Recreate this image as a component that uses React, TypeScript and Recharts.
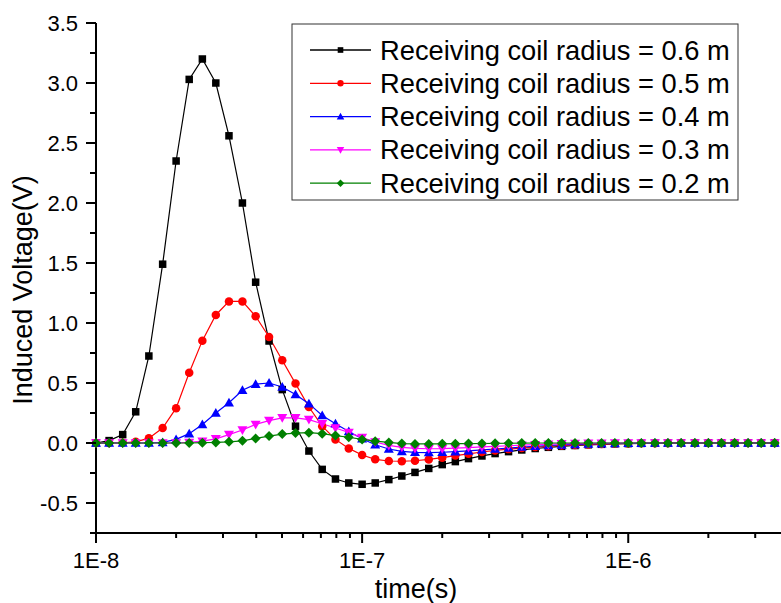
import { LineChart, Line, XAxis, YAxis } from 'recharts'

// time samples (s), 20 per decade
const times = [
  1.0e-8, 1.12e-8, 1.26e-8, 1.41e-8, 1.58e-8, 1.78e-8, 2.0e-8, 2.24e-8, 2.51e-8, 2.82e-8,
  3.16e-8, 3.55e-8, 3.98e-8, 4.47e-8, 5.01e-8, 5.62e-8, 6.31e-8, 7.08e-8, 7.94e-8, 8.91e-8,
  1.0e-7, 1.12e-7, 1.26e-7, 1.41e-7, 1.58e-7, 1.78e-7, 2.0e-7, 2.24e-7, 2.51e-7, 2.82e-7,
  3.16e-7, 3.55e-7, 3.98e-7, 4.47e-7, 5.01e-7, 5.62e-7, 6.31e-7, 7.08e-7, 7.94e-7, 8.91e-7,
  1.0e-6, 1.12e-6, 1.26e-6, 1.41e-6, 1.58e-6, 1.78e-6, 2.0e-6, 2.24e-6, 2.51e-6, 2.82e-6,
  3.16e-6, 3.55e-6,
]

const v06 = [
  0, 0.02, 0.07, 0.26, 0.725, 1.49, 2.35, 3.03, 3.2, 3.0,
  2.56, 2.0, 1.34, 0.85, 0.445, 0.14, -0.067, -0.22, -0.3, -0.333,
  -0.344, -0.333, -0.305, -0.275, -0.245, -0.212, -0.18, -0.155, -0.13, -0.108,
  -0.088, -0.072, -0.058, -0.046, -0.036, -0.028, -0.021, -0.015, -0.011, -0.007,
  -0.005, -0.003, -0.002, -0.001, 0, 0, 0, 0, 0, 0,
  0, 0,
]
const v05 = [
  0, 0, 0.002, 0.01, 0.04, 0.125, 0.29, 0.585, 0.853, 1.067,
  1.18, 1.18, 1.056, 0.883, 0.69, 0.495, 0.3, 0.14, 0.03, -0.045,
  -0.1, -0.136, -0.15, -0.152, -0.148, -0.137, -0.122, -0.105, -0.09, -0.075,
  -0.062, -0.051, -0.042, -0.034, -0.027, -0.021, -0.016, -0.012, -0.009, -0.006,
  -0.004, -0.003, -0.002, -0.001, 0, 0, 0, 0, 0, 0,
  0, 0,
]
const v04 = [
  0, 0, 0, 0, 0, 0.005, 0.03, 0.078, 0.155, 0.25,
  0.335, 0.44, 0.49, 0.5, 0.467, 0.405, 0.328, 0.23, 0.16, 0.095,
  0.035, -0.015, -0.05, -0.07, -0.078, -0.08, -0.077, -0.072, -0.066, -0.058,
  -0.05, -0.042, -0.034, -0.027, -0.021, -0.016, -0.012, -0.008, -0.006, -0.004,
  -0.003, -0.002, -0.001, 0, 0, 0, 0, 0, 0, 0,
  0, 0,
]
const v03 = [
  0, 0, 0, 0, 0, 0, 0, 0.005, 0.015, 0.035,
  0.07, 0.108, 0.155, 0.187, 0.21, 0.21, 0.195, 0.16, 0.125, 0.088,
  0.045, 0.008, -0.02, -0.036, -0.045, -0.048, -0.047, -0.043, -0.038, -0.033,
  -0.028, -0.023, -0.018, -0.014, -0.01, -0.007, -0.005, -0.003, -0.002, -0.001,
  0, 0, 0, 0, 0, 0, 0, 0, 0, 0,
  0, 0,
]
const v02 = [
  0, 0, 0, 0, 0, 0, 0, 0, 0.003, 0.005,
  0.01, 0.018, 0.038, 0.058, 0.074, 0.083, 0.086, 0.078, 0.062, 0.048,
  0.03, 0.015, 0.005, -0.005, -0.008, -0.008, -0.007, -0.006, -0.005, -0.004,
  -0.003, -0.002, -0.001, 0, 0, 0, 0, 0, 0, 0,
  0, 0, 0, 0, 0, 0, 0, 0, 0, 0,
  0, 0,
]

const seriesNames = [
  'Receiving coil radius = 0.6 m',
  'Receiving coil radius = 0.5 m',
  'Receiving coil radius = 0.4 m',
  'Receiving coil radius = 0.3 m',
  'Receiving coil radius = 0.2 m',
]

const xMajor = [1e-8, 1e-7, 1e-6]
const xMajorLabels = ['1E-8', '1E-7', '1E-6']
const xTicks = [
  1e-8, 2e-8, 3e-8, 4e-8, 5e-8, 6e-8, 7e-8, 8e-8, 9e-8,
  1e-7, 2e-7, 3e-7, 4e-7, 5e-7, 6e-7, 7e-7, 8e-7, 9e-7,
  1e-6, 2e-6, 3e-6,
]
const yMajor = [-0.5, 0, 0.5, 1, 1.5, 2, 2.5, 3, 3.5]
const yMinor = [-0.75, -0.25, 0.25, 0.75, 1.25, 1.75, 2.25, 2.75, 3.25]

const FONT = '"Liberation Sans", Arial, sans-serif'

const series = [
  { key: 'r06', values: v06, color: '#000000', shape: 'square', size: 7.5 },
  { key: 'r05', values: v05, color: '#ff0000', shape: 'circle', size: 8.5 },
  { key: 'r04', values: v04, color: '#0000ff', shape: 'up', size: 10 },
  { key: 'r03', values: v03, color: '#ff00ff', shape: 'down', size: 10 },
  { key: 'r02', values: v02, color: '#008000', shape: 'diamond', size: 10 },
]

const data = times.map((t, i) => {
  const row: Record<string, number> = { t }
  series.forEach((s) => {
    row[s.key] = s.values[i]
  })
  return row
})

const Marker = ({ shape, cx, cy, color, s }: { shape: string; cx: number; cy: number; color: string; s: number }) => {
  const h = s / 2
  if (shape === 'square') return <rect x={cx - h} y={cy - h} width={s} height={s} fill={color} />
  if (shape === 'circle') return <circle cx={cx} cy={cy} r={h} fill={color} />
  if (shape === 'up')
    return <polygon points={`${cx},${cy - h} ${cx - h},${cy + h * 0.75} ${cx + h},${cy + h * 0.75}`} fill={color} />
  if (shape === 'down')
    return <polygon points={`${cx},${cy + h} ${cx - h},${cy - h * 0.75} ${cx + h},${cy - h * 0.75}`} fill={color} />
  return <polygon points={`${cx},${cy - h} ${cx + h},${cy} ${cx},${cy + h} ${cx - h},${cy}`} fill={color} />
}

const XTick = (props: any) => {
  const { x, y, payload } = props
  const idx = xMajor.indexOf(payload.value)
  const major = idx >= 0
  return (
    <g>
      <line x1={x} x2={x} y1={y} y2={y + (major ? 10 : 5)} stroke="#000" strokeWidth={2} />
      {major && (
        <text x={x} y={y + 35} textAnchor="middle" fontSize={22} fontFamily={FONT} fill="#000">
          {xMajorLabels[idx]}
        </text>
      )}
    </g>
  )
}

const YTick = (props: any) => {
  const { x, y, payload } = props
  const major = yMajor.includes(payload.value)
  return (
    <g>
      <line x1={x} x2={x - (major ? 10 : 6)} y1={y} y2={y} stroke="#000" strokeWidth={2} />
      {major && (
        <text x={x - 18} y={y + 7.8} textAnchor="end" fontSize={22} fontFamily={FONT} fill="#000">
          {payload.value.toFixed(1)}
        </text>
      )}
    </g>
  )
}

const Legend = () => (
  <svg width={781} height={603} style={{ position: 'absolute', left: 0, top: 0, pointerEvents: 'none' }}>
    <rect x={292} y={24} width={446} height={176} fill="#fff" stroke="#333" strokeWidth={1} />
    {series.map((s, i) => {
      const cy = 50 + i * 33.3
      return (
        <g key={s.key}>
          <line x1={310} x2={371} y1={cy} y2={cy} stroke={s.color} strokeWidth={1.3} />
          <Marker shape={s.shape} cx={340.5} cy={cy} color={s.color} s={s.size * 0.75} />
          <text x={380} y={cy + 9.5} fontSize={27.3} fontFamily={FONT} fill="#000">
            {seriesNames[i]}
          </text>
        </g>
      )
    })}
  </svg>
)

export default function App() {
  return (
    <div style={{ position: 'absolute', left: 0, top: 0, width: 781, height: 603, background: '#fff' }}>
      <LineChart width={781} height={603} data={data} margin={{ top: 23, right: 0, bottom: 0, left: 0 }}>
        <XAxis
          dataKey="t"
          type="number"
          scale="log"
          domain={[1e-8, 3.75e-6]}
          ticks={xTicks}
          interval={0}
          height={70}
          tickSize={0}
          tickMargin={0}
          tickLine={false}
          axisLine={{ stroke: '#000', strokeWidth: 2 }}
          tick={<XTick />}
          label={() => (
            <text x={416} y={598} textAnchor="middle" fontSize={27} fontFamily={FONT} fill="#000">
              time(s)
            </text>
          )}
        />
        <YAxis
          type="number"
          domain={[-0.75, 3.5]}
          ticks={[...yMinor, ...yMajor].sort((a, b) => a - b)}
          interval={0}
          width={96}
          tickSize={0}
          tickMargin={0}
          tickLine={false}
          axisLine={{ stroke: '#000', strokeWidth: 2 }}
          tick={<YTick />}
          label={() => (
            <text
              x={32}
              y={290}
              transform="rotate(-90 32 290)"
              textAnchor="middle"
              fontSize={27}
              fontFamily={FONT}
              fill="#000"
            >
              Induced Voltage(V)
            </text>
          )}
        />
        {series.map((s) => (
          <Line
            key={s.key}
            dataKey={s.key}
            type="linear"
            stroke={s.color}
            strokeWidth={1.2}
            isAnimationActive={false}
            activeDot={false}
            dot={(p: any) => <Marker key={p.index} shape={s.shape} cx={p.cx} cy={p.cy} color={s.color} s={s.size} />}
          />
        ))}
      </LineChart>
      <Legend />
    </div>
  )
}
